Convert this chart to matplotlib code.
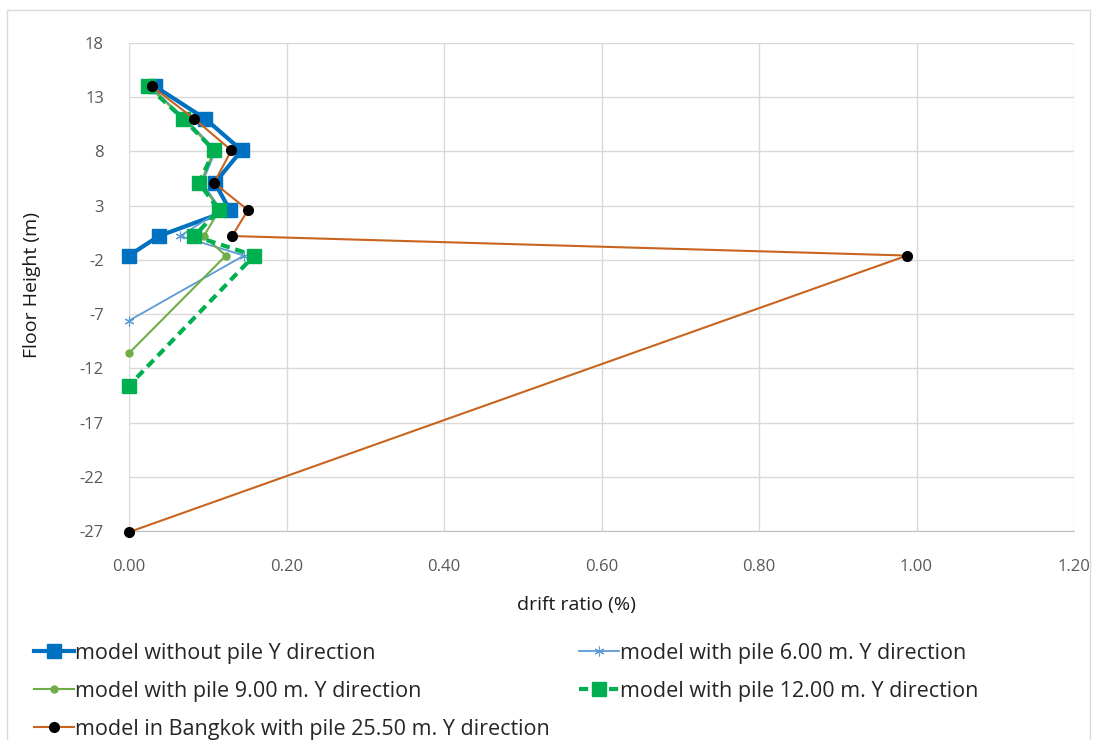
import matplotlib
matplotlib.use("Agg")
import matplotlib.pyplot as plt
from matplotlib.patches import Rectangle

plt.rcParams['font.family'] = ['Open Sans', 'DejaVu Sans']

# ---- data ----
heights = [14.0, 11.0, 8.1, 5.1, 2.6, 0.2, -1.6]
no_pile_x = [0.033, 0.097, 0.143, 0.109, 0.128, 0.038, 0.0]
no_pile_y = heights

pile6_x = [0.026, 0.072, 0.110, 0.093, 0.117, 0.065, 0.146, 0.0]
pile6_y = heights + [-7.6]

pile9_x = [0.025, 0.070, 0.108, 0.091, 0.115, 0.095, 0.123, 0.0]
pile9_y = heights + [-10.6]

pile12_x = [0.024, 0.069, 0.108, 0.089, 0.114, 0.083, 0.159, 0.0]
pile12_y = heights + [-13.6]

bkk_x = [0.029, 0.083, 0.130, 0.108, 0.151, 0.131, 0.988, 0.0]
bkk_y = heights + [-27.1]

labels = ["model without pile Y direction",
          "model with pile 6.00 m. Y direction",
          "model with pile 9.00 m. Y direction",
          "model with pile 12.00 m. Y direction",
          "model in Bangkok with pile 25.50 m. Y direction"]

x_ticks = [0.0, 0.2, 0.4, 0.6, 0.8, 1.0, 1.2]
y_ticks = [-27, -22, -17, -12, -7, -2, 3, 8, 13, 18]

W, H = 1094, 740
fig = plt.figure(figsize=(W / 100, H / 100), dpi=100)

# outer chart border
fig.patches.append(Rectangle((7 / W, -0.05), (1090 - 7) / W, 1.05 - 10 / H,
                             transform=fig.transFigure, fill=False,
                             edgecolor='#D9D9D9', linewidth=1.0))

ax = fig.add_axes([129 / W, 1 - 531 / H, (1074 - 129) / W, (531 - 43) / H])

c_blue = '#0070C0'
c_lblue = '#5B9BD5'
c_olive = '#70AD47'
c_green = '#00B050'
c_orange = '#C8641E'

common = dict(clip_on=False)
l1, = ax.plot(no_pile_x, no_pile_y, color=c_blue, lw=3.0, marker='s',
              markersize=10, zorder=3, **common)
l2, = ax.plot(pile6_x, pile6_y, color=c_lblue, lw=1.3, marker=(6, 2, 0),
              markersize=7, markeredgewidth=0.8, zorder=4, **common)
l3, = ax.plot(pile9_x, pile9_y, color=c_olive, lw=1.5, marker='o',
              markersize=5, zorder=5, **common)
l4, = ax.plot(pile12_x, pile12_y, color=c_green, lw=3.0, marker='s',
              markersize=10, linestyle=(0, (2.2, 1.4)), zorder=6, **common)
l5, = ax.plot(bkk_x, bkk_y, color=c_orange, lw=1.5, marker='o',
              markersize=7, markerfacecolor='black', markeredgecolor='black',
              zorder=7, **common)

ax.set_xlim(0, 1.2)
ax.set_ylim(-27, 18)
ax.set_xticks(x_ticks)
ax.set_xticklabels([f"{v:.2f}" for v in x_ticks])
ax.set_yticks(y_ticks)
ax.set_yticklabels([str(v) for v in y_ticks])
ax.grid(True, color='#D9D9D9', linewidth=1.0, zorder=0)
ax.set_axisbelow(True)
for s in ['top', 'right', 'left']:
    ax.spines[s].set_visible(False)
ax.spines['bottom'].set_color('#BFBFBF')
ax.tick_params(length=0, labelsize=12, labelcolor='#595959')
ax.tick_params(axis='y', pad=18)
ax.tick_params(axis='x', pad=20)

fig.text(576 / W, 1 - 605 / H, "drift ratio (%)", ha='center', va='center',
         fontsize=14, color='#1a1a1a')
fig.text(32 / W, 1 - 285 / H, "Floor Height (m)", ha='center', va='center',
         rotation=90, fontsize=14, color='#1a1a1a')

leg_kw = dict(frameon=False, fontsize=15.5, handlelength=1.86, handletextpad=0.05,
              labelspacing=0.78, borderaxespad=0, borderpad=0, labelcolor='#262626')
fig.legend([l1, l3, l5], [labels[0], labels[2], labels[4]], loc='upper left',
           bbox_to_anchor=(34 / W, 1 - 643 / H), **leg_kw)
fig.legend([l2, l4], [labels[1], labels[3]], loc='upper left',
           bbox_to_anchor=(579 / W, 1 - 643 / H), **leg_kw)

fig.savefig("out.png", dpi=100)
